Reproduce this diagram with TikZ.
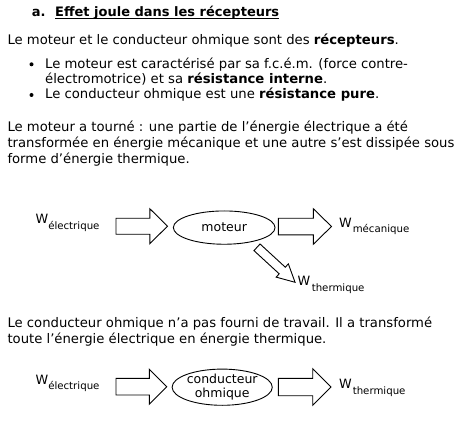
\documentclass[tikz,border=0pt]{standalone}
\usepackage{fontspec}
\setmainfont{DejaVu Sans}
\usetikzlibrary{shapes.geometric}
\newcommand{\blockarrow}[6]{%
  \begin{scope}[shift={(#1)}, rotate=#2]
    \draw[blk] (0,-#4) -- ({#3-#6},-#4) -- ({#3-#6},-#5) -- (#3,0) -- ({#3-#6},#5) -- ({#3-#6},#4) -- (0,#4) -- cycle;
  \end{scope}}
\begin{document}
\begin{tikzpicture}[x=1pt,y=-1pt,
  txt/.style={anchor=base west, inner sep=0pt, font=\fontsize{13.2}{15}\selectfont},
  ttl/.style={anchor=base west, inner sep=0pt, font=\fontsize{13}{15}\selectfont\bfseries},
  blk/.style={draw=black, line width=0.9pt, fill=white, line join=miter},
  oval/.style={draw, ellipse, line width=0.9pt, inner sep=0pt, align=center, font=\fontsize{12.5}{13.5}\selectfont},
  wbig/.style={anchor=base west, inner sep=0pt, font=\fontsize{12.8}{13}\selectfont},
  wsub/.style={anchor=base west, inner sep=0pt, font=\fontsize{10.2}{12}\selectfont},
  bul/.style={circle, fill=black, inner sep=0pt, minimum size=4pt}]
\useasboundingbox (0,0) rectangle (465,438);

% title
\node[ttl] (ta) at (31.7,17) {a.};
\node[ttl] (title) at (55,17) {Effet joule dans les récepteurs};
\draw[line width=1pt] ([yshift=-1.8pt]title.base west) -- ([yshift=-1.8pt]title.base east);

% paragraph 1
\node[txt] (p1) at (7.3,44.3) {Le moteur et le conducteur ohmique sont des \textbf{récepteurs}.};
\node[bul] (b1) at (31.5,64.3) {};
\node[txt] (l1) at (45,68.3) {Le moteur est caractérisé par sa f.c.é.m. (force contre-};
\node[txt] (l2) at (45,83.5) {électromotrice) et sa \textbf{résistance interne}.};
\node[bul] (b2) at (31.5,95) {};
\node[txt] (l3) at (45,99) {Le conducteur ohmique est une \textbf{résistance pure}.};

% paragraph 2
\node[txt] (q1) at (7.3,131.7) {Le moteur a tourné : une partie de l’énergie électrique a été};
\node[txt] (q2) at (7.3,147.7) {transformée en énergie mécanique et une autre s’est dissipée sous};
\node[txt] (q3) at (7.3,163.3) {forme d’énergie thermique.};

% diagram 1
\node[wbig] (we1) at (35.5,223.8) {W};
\node[wsub] (we1s) at ([xshift=-0.5pt,yshift=-5.5pt]we1.base east) {électrique};
\coordinate (a1s) at (116,226.2);
\blockarrow{a1s}{0}{51.5}{8}{17.5}{17.7}
\node[oval, minimum width=101.7pt, minimum height=33.3pt] (mot) at (224.2,227.6) {moteur};
\coordinate (a2s) at (278.3,226.5);
\blockarrow{a2s}{0}{53.2}{8.3}{17.8}{18.2}
\node[wbig] (wm) at (339,227.5) {W};
\node[wsub] (wms) at ([xshift=0.5pt,yshift=-5pt]wm.base east) {mécanique};
\coordinate (a3s) at (257,247.3);
\blockarrow{a3s}{-42.6}{51.7}{4.5}{9}{17.4}
\node[wbig] (wt1) at (297.5,285) {W};
\node[wsub] (wt1s) at ([xshift=1pt,yshift=-6.5pt]wt1.base east) {thermique};

% paragraph 3
\node[txt] (r1) at (7.3,327.3) {Le conducteur ohmique n’a pas fourni de travail. Il a transformé};
\node[txt] (r2) at (7.3,343.3) {toute l’énergie électrique en énergie thermique.};

% diagram 2
\node[wbig] (we2) at (35.5,384) {W};
\node[wsub] (we2s) at ([xshift=-0.5pt,yshift=-5.5pt]we2.base east) {électrique};
\coordinate (a4s) at (116,386.7);
\blockarrow{a4s}{0}{50.7}{8.3}{17.5}{17.4}
\node[oval, minimum width=99pt, minimum height=35.7pt] (cond) at (222.2,387.2) {conducteur\\ohmique};
\coordinate (a5s) at (278.3,387);
\blockarrow{a5s}{0}{52.7}{8.7}{18.3}{18.3}
\node[wbig] (wt2) at (339,388) {W};
\node[wsub] (wt2s) at ([xshift=0.5pt,yshift=-6pt]wt2.base east) {thermique};
\end{tikzpicture}
\end{document}
